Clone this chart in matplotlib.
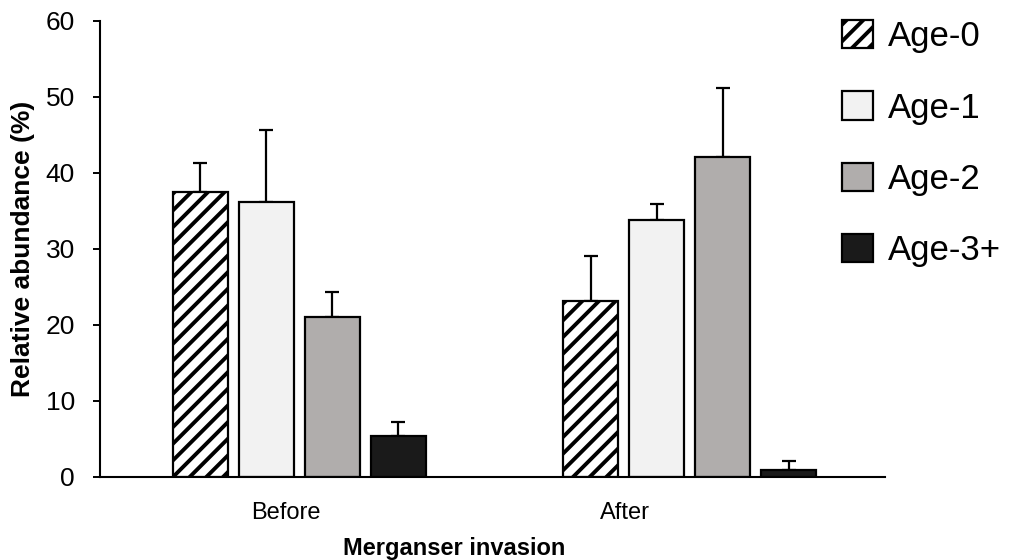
import matplotlib
import numpy as np

matplotlib.use("Agg")
import matplotlib.pyplot as plt

groups = ["Before", "After"]
ages = ["Age-0", "Age-1", "Age-2", "Age-3+"]
# mean relative abundance (%) per age class, for each period
before_mean = [37.5, 36.2, 21.0, 5.4]
after_mean = [23.1, 33.8, 42.1, 0.9]
# upper error (SE)
before_err = [3.8, 9.4, 3.3, 1.8]
after_err = [6.0, 2.1, 9.1, 1.2]

colors = ["white", "#f2f2f2", "#b0adac", "#1a1a1a"]
hatches = ["//", None, None, None]

plt.rcParams["font.family"] = ["Liberation Sans", "DejaVu Sans"]
plt.rcParams["hatch.linewidth"] = 2.8
plt.rcParams["hatch.color"] = "black"

fig = plt.figure(figsize=(10.11, 5.6), dpi=100)
ax = fig.add_axes([100 / 1011, 1 - 477 / 560, 785 / 1011, 456 / 560])

x = np.arange(len(groups))
step, width = 0.169, 0.141
means = np.array([before_mean, after_mean])
errs = np.array([before_err, after_err])

for i, age in enumerate(ages):
    xi = x + (i - 1.5) * step
    ax.bar(xi, means[:, i], width, color=colors[i], edgecolor="black",
           linewidth=1.6, hatch=hatches[i], label=age, zorder=2)
    ax.errorbar(xi, means[:, i], yerr=[np.zeros(2), errs[:, i]], fmt="none",
                ecolor="black", elinewidth=1.6, capsize=4.8, capthick=1.6, zorder=1)

ax.set_xlim(-0.51, 1.50)
ax.set_ylim(0, 60)
ax.set_yticks(range(0, 61, 10))
ax.tick_params(axis="y", labelsize=19, length=5, width=1.4, pad=13, direction="out")
ax.set_xticks([x[0] - 0.035, x[1] - 0.166])
ax.set_xticklabels(groups)
ax.tick_params(axis="x", labelsize=17, length=0, pad=18)
for s in ["top", "right"]:
    ax.spines[s].set_visible(False)
for s in ["left", "bottom"]:
    ax.spines[s].set_linewidth(1.5)

fig.text(454 / 1011, 1 - 548 / 560, "Merganser invasion", ha="center", va="center",
         fontsize=17, fontweight="bold")
fig.text(23 / 1011, 1 - 249 / 560, "Relative abundance (%)", ha="center", va="center",
         rotation=90, fontsize=19, fontweight="bold")

ax.legend(loc="upper left", bbox_to_anchor=(842 / 1011, 1 - 20 / 560),
          bbox_transform=fig.transFigure, frameon=False, fontsize=25,
          handlelength=0.88, handleheight=0.88, handletextpad=0.45,
          labelspacing=1.1, borderpad=0, borderaxespad=0)

fig.savefig("out.png", dpi=100)
